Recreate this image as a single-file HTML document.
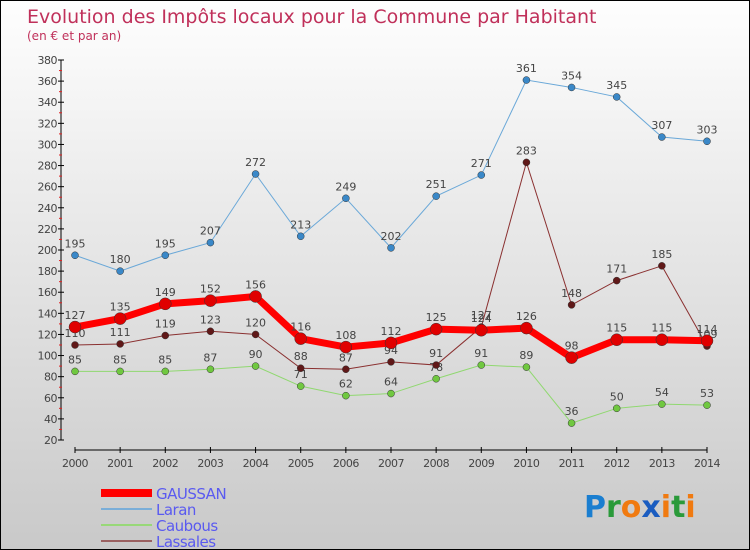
<!DOCTYPE html>
<html><head><meta charset="utf-8"><style>
body{margin:0;}
#c{width:750px;height:550px;position:relative;box-sizing:border-box;border:1px solid #000;background:linear-gradient(#fefefe,#c9c9c9);font-family:"DejaVu Sans","Liberation Sans",sans-serif;overflow:hidden}
</style></head><body>
<div id="c">
<svg id="s" width="748" height="548" style="position:absolute;left:0;top:0">
<text x="26" y="22" font-size="19" fill="#c0305a">Evolution des Impôts locaux pour la Commune par Habitant</text>
<text x="26" y="39" font-size="12" fill="#c0305a">(en € et par an)</text>
<g id="axes"></g><g id="series"></g><g id="legend"></g>
<text x="583" y="516" font-size="30" font-weight="bold" font-family="DejaVu Sans, sans-serif"><tspan fill="#1a7ed0">P</tspan><tspan fill="#2a9a3a">r</tspan><tspan fill="#f07a10">o</tspan><tspan fill="#1a5cc0">x</tspan><tspan fill="#f07a10">i</tspan><tspan fill="#2a9a3a">t</tspan><tspan fill="#f07a10">i</tspan></text>
</svg>
</div>
<script>
const years=[2000,2001,2002,2003,2004,2005,2006,2007,2008,2009,2010,2011,2012,2013,2014];
const yTicks=[20,40,60,80,100,120,140,160,180,200,220,240,260,280,300,320,340,360,380];
const gaussan=[127,135,149,152,156,116,108,112,125,124,126,98,115,115,114];
const laran=[195,180,195,207,272,213,249,202,251,271,361,354,345,307,303];
const caubous=[85,85,85,87,90,71,62,64,78,91,89,36,50,54,53];
const lassales=[110,111,119,123,120,88,87,94,91,127,283,148,171,185,109];
const NS="http://www.w3.org/2000/svg";
const X=i=>74+i*(632/14);
const Y=v=>439-(v-20)*(380/360);
function mk(t,a,p){const e=document.createElementNS(NS,t);for(const k in a)e.setAttribute(k,a[k]);p.appendChild(e);return e;}
const ax=document.getElementById('axes');
let e=mk('line',{x1:60,y1:Y(380),x2:60,y2:Y(20),stroke:'#000','stroke-width':1},ax);

e=mk('line',{x1:X(0),y1:449,x2:X(14),y2:449,stroke:'#000','stroke-width':1},ax);

yTicks.forEach((v,i)=>{
  mk('line',{x1:57,y1:Y(v),x2:63,y2:Y(v),stroke:'#000'},ax);
  if(i<yTicks.length-1)mk('line',{x1:58,y1:Y(v+10),x2:61,y2:Y(v+10),stroke:'#e02020'},ax);
  const t=mk('text',{x:56,y:Y(v)+4,'font-size':11,fill:'#444','text-anchor':'end','letter-spacing':'-0.5'},ax);
  t.textContent=v;
  
});
years.forEach((y,i)=>{
  mk('line',{x1:X(i),y1:446,x2:X(i),y2:452,stroke:'#000'},ax);
  const t=mk('text',{x:X(i),y:466,'font-size':11,fill:'#444','text-anchor':'middle','letter-spacing':'-0.5'},ax);
  t.textContent=y;
  
});
const sg=document.getElementById('series');
const defs=[
 {n:'laran',d:laran,c:'#6aa8d8',w:1,dot:'#3a88c8',r:3.5},
 {n:'caubous',d:caubous,c:'#90d870',w:1,dot:'#70c840',r:3.5},
 {n:'lassales',d:lassales,c:'#8a3030',w:1,dot:'#601818',r:3.5},
 {n:'gaussan',d:gaussan,c:'#ff0000',w:7,dot:'#e00000',r:6}];
defs.forEach(s=>{
  const g=mk('g',{},sg);
  
  const pl=mk('polyline',{points:s.d.map((v,i)=>X(i)+','+Y(v)).join(' '),fill:'none',stroke:s.c,'stroke-width':s.w},g);
  
  s.d.forEach((v,i)=>{
    const c=mk('circle',{cx:X(i),cy:Y(v),r:s.r,fill:s.dot,stroke:'#333','stroke-width':0.5},g);
    
    const t=mk('text',{x:X(i),y:Y(v)-8,'font-size':11,fill:'#444','text-anchor':'middle'},g);
    t.textContent=v;
    
  });
});
const lg=document.getElementById('legend');
const leg=[['GAUSSAN','#ff0000',8],['Laran','#7aaed8',2],['Caubous','#98d878',2],['Lassales','#9a6060',2]];
leg.forEach((l,i)=>{
  const y=492+i*16;
  const g=mk('g',{},lg);
  
  mk('line',{x1:100,y1:y,x2:151,y2:y,stroke:l[1],'stroke-width':l[2]},g);
  const t=mk('text',{x:155,y:y+6,'font-size':15,fill:'#5a5af0','letter-spacing':'-0.5'},g);
  t.textContent=l[0];
});
</script>
</body></html>
